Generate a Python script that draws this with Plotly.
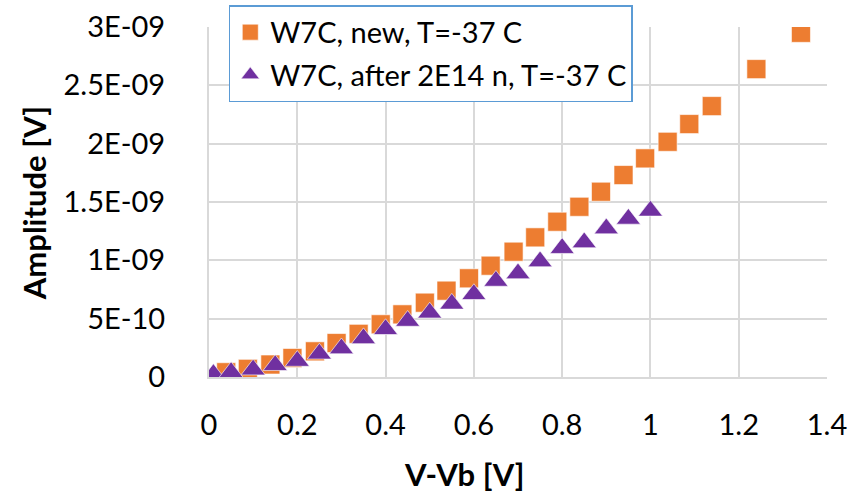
import plotly.graph_objects as go

# Series 1: W7C, new
new_x = [0.039, 0.088, 0.139, 0.189, 0.240, 0.289, 0.339, 0.389, 0.438, 0.489,
         0.538, 0.589, 0.638, 0.690, 0.739, 0.789, 0.839, 0.888, 0.939, 0.988,
         1.039, 1.088, 1.139, 1.240, 1.341]
new_y = [0.041e-9, 0.070e-9, 0.107e-9, 0.163e-9, 0.220e-9, 0.291e-9, 0.370e-9,
         0.452e-9, 0.537e-9, 0.637e-9, 0.740e-9, 0.846e-9, 0.954e-9, 1.074e-9,
         1.197e-9, 1.331e-9, 1.459e-9, 1.588e-9, 1.731e-9, 1.874e-9, 2.016e-9,
         2.168e-9, 2.322e-9, 2.639e-9, 2.950e-9]

# Series 2: W7C, after 2E14 n
irr_x = [0.01, 0.05, 0.10, 0.15, 0.20, 0.25, 0.30, 0.35, 0.40, 0.45, 0.50,
         0.55, 0.60, 0.65, 0.70, 0.75, 0.80, 0.85, 0.90, 0.95, 1.00]
irr_y = [0.024e-9, 0.041e-9, 0.063e-9, 0.101e-9, 0.137e-9, 0.199e-9, 0.244e-9,
         0.331e-9, 0.409e-9, 0.480e-9, 0.551e-9, 0.627e-9, 0.709e-9, 0.823e-9,
         0.887e-9, 0.990e-9, 1.104e-9, 1.153e-9, 1.272e-9, 1.355e-9, 1.424e-9]

x_ticks = [0, 0.2, 0.4, 0.6, 0.8, 1.0, 1.2, 1.4]
x_tick_labels = ["0", "0.2", "0.4", "0.6", "0.8", "1", "1.2", "1.4"]
y_ticks = [0, 0.5e-9, 1.0e-9, 1.5e-9, 2.0e-9, 2.5e-9, 3.0e-9]
y_tick_labels = ["0", "5E-10", "1E-09", "1.5E-09", "2E-09", "2.5E-09", "3E-09"]

FONT = "Lato"
FS = 29
TFS = 31
GRID = "#D9D9D9"

fig = go.Figure()
fig.add_trace(go.Scatter(
    x=new_x, y=new_y, mode="markers", name="W7C, new, T=-37 C",
    legendgroup="a",
    marker=dict(symbol="square", size=19, color="#ED7D31",
                line=dict(color="rgba(255,255,255,0.6)", width=1)),
))
fig.add_trace(go.Scatter(
    x=irr_x, y=irr_y, mode="markers", name="W7C, after 2E14 n, T=-37 C",
    legendgroup="b",
    marker=dict(symbol="triangle-up", size=21, color="#7030A0",
                line=dict(color="rgba(255,255,255,0.6)", width=1)),
))

fig.update_layout(
    width=856, height=497,
    margin=dict(l=209, r=29, t=27, b=120, autoexpand=False),
    paper_bgcolor="white", plot_bgcolor="white",
    font=dict(family=FONT, size=FS, color="#000000"),
    showlegend=True,
    legend=dict(
        x=0.032, y=1.062, xanchor="left", yanchor="top",
        bgcolor="white", bordercolor="#5B9BD5", borderwidth=1.5,
        font=dict(family=FONT, size=FS, color="#000000"),
        tracegroupgap=2,
    ),
    xaxis=dict(
        range=[0, 1.4], tickvals=x_ticks, ticktext=x_tick_labels,
        showgrid=True, gridcolor=GRID, gridwidth=2,
        showline=True, linecolor=GRID, linewidth=2,
        zeroline=False, ticks="", ticklabelstandoff=21,
        automargin=False,
        tickfont=dict(family=FONT, size=FS, color="#000000"),
    ),
    yaxis=dict(
        range=[0, 3e-9], tickvals=y_ticks, ticktext=y_tick_labels,
        showgrid=True, gridcolor=GRID, gridwidth=2,
        showline=True, linecolor=GRID, linewidth=2,
        zeroline=False, ticks="", ticklabelstandoff=36,
        automargin=False,
        tickfont=dict(family=FONT, size=FS, color="#000000"),
    ),
    annotations=[
        dict(text="<b>V-Vb [V]</b>", xref="paper", yref="paper",
             x=0.414, y=-0.277, xanchor="center", yanchor="middle",
             showarrow=False, font=dict(family=FONT, size=TFS, color="#000000")),
        dict(text="<b>Amplitude [V]</b>", xref="paper", yref="paper",
             x=-0.283, y=0.497, xanchor="center", yanchor="middle",
             textangle=-90, showarrow=False,
             font=dict(family=FONT, size=TFS, color="#000000")),
    ],
)

fig.write_html("out.html")
